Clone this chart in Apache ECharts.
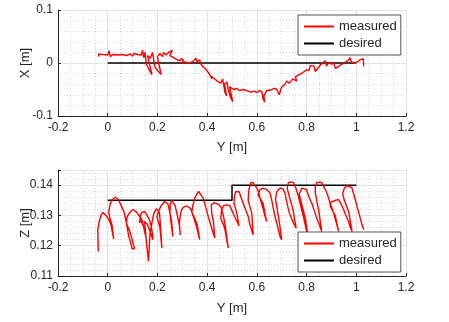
<!DOCTYPE html>
<html><head><meta charset="utf-8">
<script src="https://cdn.jsdelivr.net/npm/echarts@6/dist/echarts.min.js"></script>
<style>html,body{margin:0;padding:0;background:#fff}#c{width:449px;height:322px}</style>
</head><body><div id="c"></div>
<script>
const seriesNames = ['measured', 'desired'];
const yRange = [-0.2, 1.2, 0.2];        // horizontal axis "Y [m]"
const xRange = [-0.1, 0.1, 0.1];        // top vertical axis "X [m]"
const zRange = [0.11, 0.145, 0.01];     // bottom vertical axis "Z [m]"

const desiredTop = [[0, 0], [1, 0]];
const desiredBottom = [[0, 0.135], [0.5, 0.135], [0.5, 0.14], [1, 0.14]];

const measuredTop = [
[-0.037,0.012],[-0.036,0.017],[-0.02,0.016],[0.0,0.015],[0.006,0.023],[0.014,0.02],[0.01,0.012],[0.02,0.016],[0.04,0.015],[0.06,0.016],[0.075,0.014],[0.09,0.017],[0.1,0.013],[0.105,0.018],[0.12,0.016],[0.135,0.015],[0.14,0.024],[0.145,0.01],[0.15,0.02],[0.155,-0.002],[0.162,-0.008],[0.17,-0.016],[0.178,-0.022],[0.165,0.004],[0.16,0.014],[0.172,0.009],[0.18,0.02],[0.185,0.006],[0.19,-0.008],[0.2,-0.014],[0.215,-0.022],[0.205,0.0],[0.2,0.012],[0.21,0.018],[0.22,0.012],[0.225,0.02],[0.235,0.015],[0.245,0.02],[0.26,0.024],[0.25,0.014],[0.265,0.01],[0.28,0.006],[0.29,0.004],[0.295,0.008],[0.305,0.006],[0.298,0.0],[0.31,0.002],[0.33,0.0],[0.345,0.004],[0.355,0.009],[0.36,0.002],[0.37,0.006],[0.375,-0.002],[0.385,-0.008],[0.395,-0.012],[0.405,-0.018],[0.415,-0.026],[0.42,-0.03],[0.412,-0.024],[0.425,-0.028],[0.44,-0.034],[0.455,-0.038],[0.462,-0.03],[0.468,-0.045],[0.472,-0.056],[0.478,-0.062],[0.47,-0.04],[0.48,-0.036],[0.485,-0.05],[0.495,-0.066],[0.503,-0.073],[0.49,-0.045],[0.5,-0.048],[0.51,-0.05],[0.52,-0.048],[0.53,-0.052],[0.545,-0.05],[0.56,-0.052],[0.575,-0.055],[0.59,-0.053],[0.6,-0.056],[0.61,-0.052],[0.62,-0.054],[0.625,-0.068],[0.632,-0.074],[0.628,-0.062],[0.64,-0.052],[0.655,-0.051],[0.67,-0.048],[0.68,-0.05],[0.69,-0.06],[0.695,-0.052],[0.7,-0.045],[0.71,-0.042],[0.72,-0.034],[0.73,-0.038],[0.745,-0.03],[0.76,-0.034],[0.755,-0.026],[0.77,-0.022],[0.785,-0.018],[0.8,-0.013],[0.81,-0.014],[0.815,-0.005],[0.83,-0.006],[0.835,-0.016],[0.845,-0.01],[0.855,-0.004],[0.865,0.0],[0.875,0.004],[0.88,-0.006],[0.89,0.001],[0.9,-0.002],[0.91,0.0],[0.915,-0.01],[0.925,-0.008],[0.935,-0.004],[0.95,0.0],[0.965,0.004],[0.975,0.01],[0.98,0.002],[0.99,0.0],[1.005,0.002],[1.015,0.006],[1.028,0.008],[1.03,-0.006]
];

const measuredBottom = [
[-0.038,0.1181],[-0.04,0.1253],[-0.034,0.128],[-0.026,0.1302],[-0.02,0.131],[-0.007,0.13],[0.005,0.1285],[0.013,0.127],[0.02,0.124],[0.024,0.1222],
[0.018,0.1265],[0.008,0.1295],
[0.004,0.131],[0.009,0.1335],[0.018,0.1352],[0.03,0.136],[0.04,0.1355],[0.047,0.1346],[0.058,0.1325],[0.067,0.1308],[0.074,0.128],[0.085,0.123],[0.092,0.121],[0.098,0.119],[0.108,0.119],
[0.09,0.1245],[0.075,0.1275],
[0.071,0.1275],[0.078,0.1295],[0.087,0.1308],[0.095,0.1316],[0.104,0.1319],[0.117,0.131],[0.127,0.1298],[0.135,0.129],[0.14,0.128],[0.144,0.1264],[0.15,0.124],[0.155,0.1225],
[0.145,0.1262],[0.132,0.1285],
[0.128,0.1275],[0.131,0.1298],[0.137,0.131],[0.148,0.1312],[0.155,0.1305],[0.162,0.13],[0.168,0.1285],[0.175,0.1264],[0.18,0.124],[0.182,0.122],
[0.16,0.127],[0.148,0.128],[0.155,0.122],[0.164,0.1148],[0.17,0.124],[0.18,0.1285],
[0.185,0.1305],[0.195,0.1322],[0.202,0.1325],[0.208,0.131],[0.212,0.127],[0.215,0.123],[0.218,0.1192],
[0.21,0.126],[0.198,0.1295],
[0.205,0.1315],[0.215,0.1332],[0.229,0.1346],[0.242,0.1338],[0.25,0.131],[0.256,0.1286],[0.26,0.1255],[0.262,0.123],
[0.255,0.1275],[0.25,0.131],
[0.252,0.1338],[0.258,0.135],[0.264,0.1345],[0.272,0.133],[0.28,0.13],[0.289,0.1264],[0.292,0.1235],
[0.288,0.1275],
[0.291,0.1295],[0.297,0.1318],[0.303,0.1326],[0.316,0.1332],[0.328,0.1326],[0.336,0.1318],[0.345,0.1295],[0.357,0.1264],[0.364,0.124],[0.37,0.122],[0.374,0.1222],
[0.36,0.127],[0.345,0.13],
[0.338,0.131],[0.343,0.1335],[0.35,0.1357],[0.358,0.137],[0.366,0.1379],[0.375,0.1368],[0.384,0.1357],[0.395,0.1325],[0.404,0.1297],[0.414,0.127],[0.424,0.1242],[0.431,0.1225],
[0.425,0.128],[0.418,0.131],
[0.417,0.1335],[0.427,0.1342],[0.437,0.134],[0.448,0.1335],[0.458,0.1324],[0.465,0.13],[0.471,0.1275],[0.478,0.1235],[0.485,0.1192],
[0.47,0.126],[0.455,0.129],
[0.458,0.1315],[0.465,0.1332],[0.478,0.1335],[0.491,0.1332],[0.503,0.131],[0.511,0.1295],[0.52,0.128],[0.528,0.1265],[0.532,0.1264],
[0.52,0.1305],[0.508,0.134],
[0.51,0.1365],[0.515,0.1378],[0.522,0.138],[0.529,0.1378],[0.536,0.136],[0.545,0.134],[0.555,0.1318],[0.565,0.1297],[0.572,0.127],[0.585,0.1236],[0.592,0.123],
[0.58,0.1305],[0.565,0.135],
[0.568,0.1385],[0.575,0.1407],[0.584,0.1409],[0.592,0.1409],[0.6,0.139],[0.606,0.1379],[0.615,0.135],[0.626,0.1319],[0.632,0.13],[0.639,0.128],
[0.625,0.134],[0.605,0.1368],
[0.6,0.1372],[0.612,0.1385],[0.626,0.139],[0.64,0.1385],[0.653,0.1374],[0.66,0.135],[0.667,0.132],[0.673,0.1297],[0.683,0.1265],[0.693,0.123],[0.7,0.122],
[0.69,0.128],[0.675,0.1355],
[0.68,0.1378],[0.693,0.139],[0.705,0.1388],[0.713,0.1374],[0.72,0.1345],[0.73,0.131],[0.747,0.1275],[0.758,0.1258],
[0.745,0.132],[0.728,0.137],
[0.722,0.139],[0.727,0.1409],[0.737,0.141],[0.747,0.1409],[0.757,0.139],[0.767,0.1363],[0.777,0.133],[0.787,0.1297],[0.797,0.126],[0.808,0.122],
[0.795,0.129],[0.775,0.1355],
[0.77,0.137],[0.781,0.139],[0.8,0.1385],[0.81,0.136],[0.821,0.134],[0.831,0.1315],[0.841,0.1291],[0.851,0.127],[0.861,0.1247],
[0.85,0.131],[0.835,0.1375],
[0.835,0.1395],[0.841,0.1409],[0.851,0.141],[0.861,0.1409],[0.872,0.139],[0.882,0.1374],[0.895,0.134],[0.909,0.1308],[0.92,0.1275],[0.929,0.1247],
[0.915,0.13],[0.895,0.133],
[0.888,0.133],[0.895,0.1342],[0.902,0.1346],[0.915,0.135],[0.929,0.1352],[0.94,0.1335],[0.949,0.1319],[0.958,0.13],[0.969,0.128],[0.976,0.126],[0.983,0.1247],
[0.97,0.131],[0.95,0.1355],
[0.945,0.1372],[0.952,0.139],[0.962,0.1398],[0.972,0.1396],[0.983,0.139],[0.993,0.136],[1.003,0.133],[1.013,0.13],[1.023,0.1269],[1.03,0.1253]
];

const FONT = '"Liberation Sans", Arial, Helvetica, sans-serif';
const TXT = '#262626';
const chart = echarts.init(document.getElementById('c'), null, {renderer: 'canvas'});

function hAxis(gridIndex, gap) {
  return {
    type: 'value', gridIndex, min: yRange[0], max: yRange[1], interval: yRange[2],
    name: 'Y [m]', nameLocation: 'middle', nameGap: gap, nameMoveOverlap: false,
    nameTextStyle: {color: TXT, fontSize: 13, fontFamily: FONT},
    axisLine: {show: true, onZero: false, lineStyle: {color: TXT, width: 1}},
    axisTick: {show: true, inside: true, length: 3, lineStyle: {color: TXT}},
    axisLabel: {color: TXT, fontSize: 12, fontFamily: FONT, margin: 6},
    splitLine: {show: true, lineStyle: {color: '#e3e3e3', width: 1}},
    minorTick: {show: false, splitNumber: 4},
    minorSplitLine: {show: true, lineStyle: {color: '#d6d6d6', width: 1, type: [1, 2]}}
  };
}
function vAxis(gridIndex, range, name, minorSplit, hideMax) {
  return {
    type: 'value', gridIndex, min: range[0], max: range[1], interval: range[2],
    name, nameLocation: 'middle', nameGap: 26, nameMoveOverlap: false,
    nameTextStyle: {color: TXT, fontSize: 13, fontFamily: FONT},
    axisLine: {show: true, onZero: false, lineStyle: {color: TXT, width: 1}},
    axisTick: {show: true, inside: true, length: 3, lineStyle: {color: TXT}},
    axisLabel: {color: TXT, fontSize: 12, fontFamily: FONT, margin: 5,
      formatter: v => (hideMax && Math.abs(v - range[1]) < 1e-9) ? '' : String(+v.toFixed(4))},
    splitLine: {show: true, lineStyle: {color: '#e3e3e3', width: 1}},
    minorTick: {show: false, splitNumber: minorSplit},
    minorSplitLine: {show: true, lineStyle: {color: '#d6d6d6', width: 1, type: [1, 2]}}
  };
}
function legend(top) {
  return {
    data: seriesNames, left: 298, top, orient: 'vertical',
    itemWidth: 30, itemHeight: 13, itemGap: 4,
    padding: [5, 4, 5, 5],
    backgroundColor: '#fff', borderColor: TXT, borderWidth: 0.8,
    textStyle: {color: TXT, fontSize: 13, fontFamily: FONT},
    itemStyle: {color: 'rgba(0,0,0,0)', borderWidth: 0, opacity: 0},
    selectedMode: false
  };
}

chart.setOption({
  animation: false,
  backgroundColor: '#fff',
  grid: [
    {left: 58, top: 10, width: 348, height: 106},
    {left: 58, top: 170, width: 348, height: 106}
  ],
  xAxis: [hAxis(0, 25), hAxis(1, 26)],
  yAxis: [vAxis(0, xRange, 'X [m]', 5, false), vAxis(1, zRange, 'Z [m]', 5, true)],
  legend: [legend(15), legend(232)],
  series: [
    {name: seriesNames[1], type: 'line', xAxisIndex: 0, yAxisIndex: 0, data: desiredTop, symbol: 'none',
      lineStyle: {color: '#000', width: 1.5}, itemStyle: {color: '#000'}, z: 2},
    {name: seriesNames[0], type: 'line', xAxisIndex: 0, yAxisIndex: 0, data: measuredTop, symbol: 'none',
      lineStyle: {color: '#ff0000', width: 1.4}, itemStyle: {color: '#ff0000'}, z: 3},
    {name: seriesNames[1], type: 'line', xAxisIndex: 1, yAxisIndex: 1, data: desiredBottom, symbol: 'none',
      lineStyle: {color: '#000', width: 1.5}, itemStyle: {color: '#000'}, z: 2},
    {name: seriesNames[0], type: 'line', xAxisIndex: 1, yAxisIndex: 1, data: measuredBottom, symbol: 'none',
      lineStyle: {color: '#ff0000', width: 1.4}, itemStyle: {color: '#ff0000'}, z: 3}
  ]
});
</script></body></html>
